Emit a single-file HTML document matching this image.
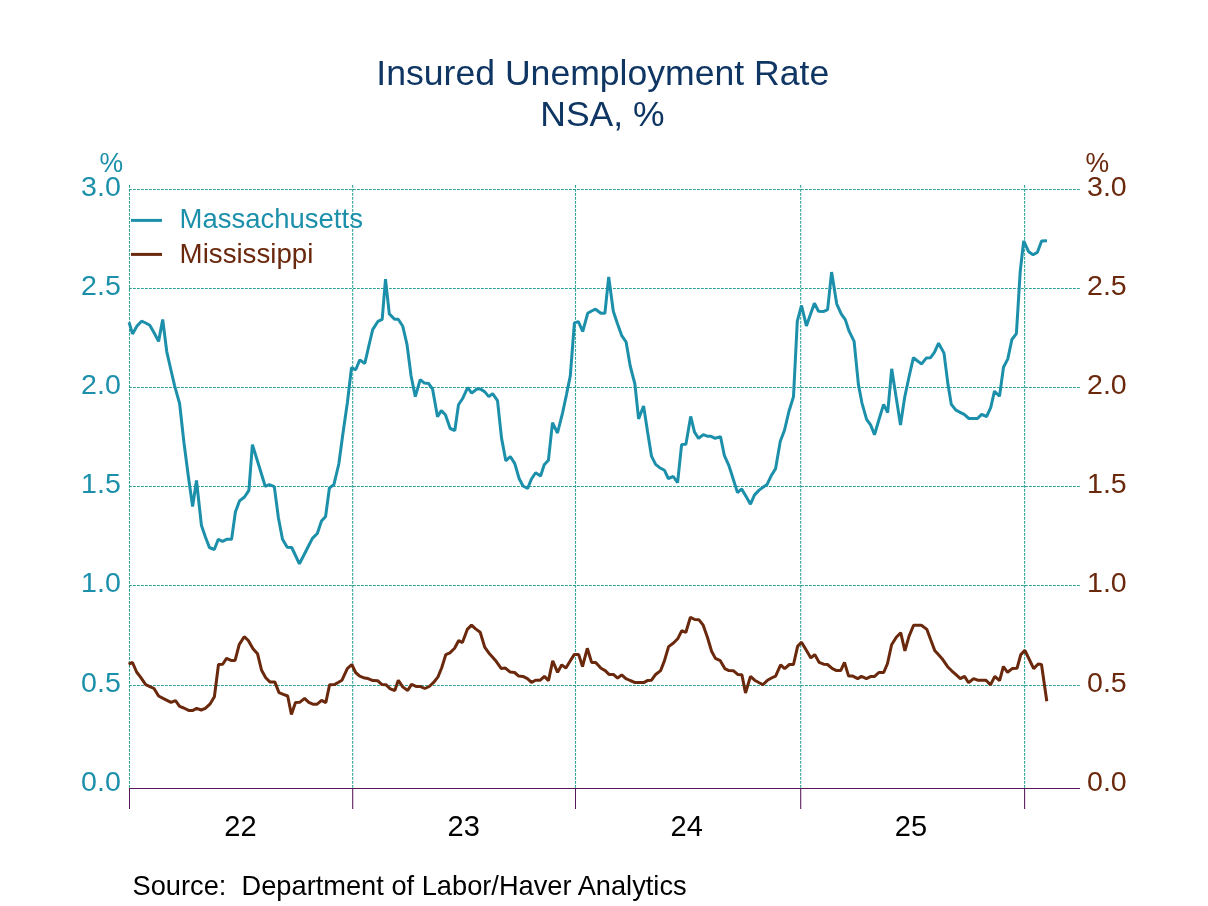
<!DOCTYPE html>
<html lang="en">
<head>
<meta charset="utf-8">
<title>Insured Unemployment Rate</title>
<style>
html,body{margin:0;padding:0;background:#fff;}
body{width:1208px;height:906px;overflow:hidden;}
svg{display:block;}
text{font-family:"Liberation Sans",Arial,Helvetica,sans-serif;}
.t{fill:#0f3563;}
.l{fill:#1c90aa;}
.r{fill:#6a280c;}
.k{fill:#000;}
.g{stroke:#2aa093;stroke-width:1.1;stroke-dasharray:2.8 1.2;fill:none;}
.a{stroke:#561858;stroke-width:1.05;fill:none;}
</style>
</head>
<body>
<svg width="1208" height="906" viewBox="0 0 1208 906">
<rect width="1208" height="906" fill="#ffffff"/>
<text class="t" x="602.8" y="84.7" font-size="35.6" text-anchor="middle">Insured Unemployment Rate</text>
<text class="t" x="602.4" y="126.1" font-size="35.5" text-anchor="middle">NSA, %</text>
<g class="g">
<line x1="129" y1="189.5" x2="1080" y2="189.5"/>
<line x1="129" y1="288.5" x2="1080" y2="288.5"/>
<line x1="129" y1="387.5" x2="1080" y2="387.5"/>
<line x1="129" y1="486.5" x2="1080" y2="486.5"/>
<line x1="129" y1="585.5" x2="1080" y2="585.5"/>
<line x1="129" y1="685.5" x2="1080" y2="685.5"/>
<line x1="129.5" y1="185" x2="129.5" y2="788"/>
<line x1="352.7" y1="185" x2="352.7" y2="788"/>
<line x1="575.5" y1="185" x2="575.5" y2="788"/>
<line x1="800.7" y1="185" x2="800.7" y2="788"/>
<line x1="1024.6" y1="185" x2="1024.6" y2="788"/>
</g>
<g class="a">
<line x1="129" y1="788.5" x2="1080" y2="788.5"/>
<line x1="129.5" y1="788.5" x2="129.5" y2="809"/>
<line x1="352.7" y1="788.5" x2="352.7" y2="809"/>
<line x1="575.5" y1="788.5" x2="575.5" y2="809"/>
<line x1="800.7" y1="788.5" x2="800.7" y2="809"/>
<line x1="1024.6" y1="788.5" x2="1024.6" y2="809"/>
</g>
<text class="l" transform="translate(123.2,172.3) scale(0.95,1)" font-size="28" text-anchor="end">%</text>
<text class="l" transform="translate(120.85,196.2) scale(1.022,1)" font-size="28" text-anchor="end">3.0</text>
<text class="l" transform="translate(120.85,295.2) scale(1.022,1)" font-size="28" text-anchor="end">2.5</text>
<text class="l" transform="translate(120.85,394.2) scale(1.022,1)" font-size="28" text-anchor="end">2.0</text>
<text class="l" transform="translate(120.85,493.2) scale(1.022,1)" font-size="28" text-anchor="end">1.5</text>
<text class="l" transform="translate(120.85,592.2) scale(1.022,1)" font-size="28" text-anchor="end">1.0</text>
<text class="l" transform="translate(120.85,692.2) scale(1.022,1)" font-size="28" text-anchor="end">0.5</text>
<text class="l" transform="translate(120.85,790.8) scale(1.022,1)" font-size="28" text-anchor="end">0.0</text>
<text class="r" transform="translate(1085.5,172.3) scale(0.95,1)" font-size="28">%</text>
<text class="r" transform="translate(1087.0,196.2) scale(1.022,1)" font-size="28">3.0</text>
<text class="r" transform="translate(1087.0,295.2) scale(1.022,1)" font-size="28">2.5</text>
<text class="r" transform="translate(1087.0,394.2) scale(1.022,1)" font-size="28">2.0</text>
<text class="r" transform="translate(1087.0,493.2) scale(1.022,1)" font-size="28">1.5</text>
<text class="r" transform="translate(1087.0,592.2) scale(1.022,1)" font-size="28">1.0</text>
<text class="r" transform="translate(1087.0,692.2) scale(1.022,1)" font-size="28">0.5</text>
<text class="r" transform="translate(1087.0,790.8) scale(1.022,1)" font-size="28">0.0</text>
<line x1="131" y1="220.4" x2="162" y2="220.4" stroke="#1c90aa" stroke-width="3"/>
<line x1="131" y1="254.4" x2="162" y2="254.4" stroke="#6a280c" stroke-width="3"/>
<text class="l" transform="translate(179.6,227.8) scale(0.982,1)" font-size="28">Massachusetts</text>
<text class="r" transform="translate(179.6,262.5) scale(0.989,1)" font-size="28">Mississippi</text>
<polyline fill="none" stroke="#6a280c" stroke-width="3.0" stroke-linejoin="bevel" stroke-linecap="butt" points="128.6,664.2 132.5,662.5 136.6,672.0 140.7,677.4 145.7,684.7 149.9,686.6 154.0,688.5 158.6,696.0 163.1,698.4 167.0,700.3 171.0,702.3 175.5,700.6 179.6,706.4 183.8,708.0 188.7,710.4 192.9,710.4 196.7,708.4 201.2,710.0 205.3,708.4 209.9,704.2 214.4,696.8 218.5,664.5 222.7,664.2 226.5,658.4 231.0,660.4 235.1,660.4 239.2,644.6 244.2,636.7 248.3,640.5 253.0,648.8 257.5,653.7 261.6,670.3 265.7,677.7 269.9,681.9 274.8,681.9 279.0,692.6 283.3,694.3 287.7,696.0 291.4,714.5 295.5,702.6 299.7,702.3 304.6,698.4 308.8,702.3 312.9,704.2 317.1,704.2 321.6,700.4 325.8,702.6 329.6,684.7 334.9,684.4 338.5,682.3 342.0,680.2 347.3,668.6 351.8,664.5 355.6,672.5 359.7,676.1 364.7,678.1 368.0,678.6 372.9,680.6 377.6,680.7 381.7,684.4 385.9,684.7 390.3,688.8 394.8,690.5 398.3,680.2 402.7,686.9 407.7,690.5 411.5,684.4 416.0,686.4 420.1,686.4 424.8,688.5 429.2,686.5 433.4,682.7 438.0,676.9 441.7,667.8 445.8,654.6 449.9,652.9 454.6,648.3 458.7,640.5 462.4,642.6 467.3,629.4 471.5,625.1 475.6,628.9 480.2,632.2 484.7,647.1 488.8,652.9 492.2,656.7 495.5,660.4 501.3,668.6 505.4,668.1 510.2,672.1 514.6,672.5 518.7,676.1 522.9,676.4 527.4,678.6 531.5,682.4 535.6,680.2 540.3,680.2 544.4,676.4 548.5,680.6 552.7,660.9 557.6,672.3 561.8,664.8 565.9,668.1 570.0,661.3 574.2,654.6 578.7,654.6 582.5,666.5 587.3,648.3 591.6,662.4 595.7,662.4 601.0,668.3 605.2,670.6 609.0,674.4 613.4,674.4 617.6,678.2 621.7,674.8 625.9,678.6 630.2,680.5 634.6,682.4 639.3,682.4 644.1,682.4 647.4,680.6 651.5,680.2 655.3,674.8 660.6,670.6 664.4,660.9 668.6,646.6 673.5,643.0 677.7,638.8 681.8,630.6 685.8,632.5 690.4,617.3 694.8,619.5 699.0,619.8 703.2,625.2 707.4,637.2 711.6,651.3 715.4,658.4 720.3,660.7 724.8,668.6 728.9,670.6 733.6,670.8 737.7,674.4 741.9,674.8 745.5,693.0 750.5,676.4 754.6,680.2 758.8,682.5 762.9,684.7 767.5,680.2 771.5,678.0 775.6,676.1 780.6,664.8 784.7,668.6 789.4,664.5 793.5,664.5 797.6,646.3 801.5,642.2 806.2,650.0 810.9,657.9 814.7,654.6 819.2,662.4 823.6,664.2 827.5,664.5 832.4,668.6 836.6,670.6 840.7,670.6 844.5,662.4 848.6,676.1 852.8,676.1 857.7,678.6 861.4,676.4 866.4,678.6 870.5,676.6 874.6,676.4 878.8,672.5 883.7,672.5 887.5,663.5 891.6,644.8 896.3,637.2 900.7,632.7 904.9,650.9 909.0,636.4 913.6,625.3 917.5,625.3 921.4,625.3 926.9,629.4 930.8,640.0 934.7,650.4 938.4,654.6 942.1,658.7 947.6,666.7 951.7,670.8 956.0,674.7 960.3,678.6 964.5,676.4 968.6,682.7 973.6,678.6 977.7,680.2 981.8,680.2 986.0,680.2 990.5,684.9 994.8,676.4 999.6,680.7 1003.4,666.5 1007.5,672.3 1012.2,668.6 1017.0,668.3 1020.8,654.6 1024.9,650.4 1029.3,659.5 1033.7,668.6 1038.1,664.0 1041.5,664.5 1046.8,701.3"/>
<polyline fill="none" stroke="#1c90aa" stroke-width="3.0" stroke-linejoin="bevel" stroke-linecap="butt" points="129.1,322.4 132.5,333.9 137.0,326.0 141.6,321.2 145.7,323.0 149.8,325.2 154.2,333.0 158.6,341.4 162.7,319.5 166.7,351.3 170.7,369.0 174.7,386.1 179.6,403.5 184.0,443.0 188.3,476.0 192.6,506.5 196.5,480.5 201.4,525.2 205.4,537.0 209.4,547.5 214.3,549.5 218.3,539.3 222.6,541.3 226.6,539.3 231.6,539.3 235.4,512.0 239.5,500.9 244.5,497.0 248.9,490.4 252.4,444.6 256.7,458.5 261.0,472.5 265.2,486.3 269.3,484.6 274.3,486.6 278.4,517.7 282.5,539.3 287.2,547.2 291.7,547.5 295.5,555.5 299.4,563.8 303.7,555.5 308.0,547.0 312.4,538.4 317.3,533.5 321.5,521.0 325.6,516.4 329.4,488.0 333.9,484.6 338.8,464.0 343.0,433.0 347.4,402.5 351.5,367.7 355.7,369.8 359.8,359.9 364.8,363.5 368.8,346.0 372.7,329.6 378.0,321.3 382.2,319.3 385.5,279.1 389.3,313.9 394.6,319.3 398.2,319.3 402.8,326.3 407.0,344.5 411.1,376.0 415.3,396.7 420.2,379.6 424.4,383.1 428.5,383.4 432.6,389.2 437.5,416.8 441.3,410.6 445.4,414.8 450.2,428.5 454.8,430.5 458.5,404.8 462.8,398.2 467.7,387.5 471.7,393.2 476.7,389.1 480.5,389.1 484.6,391.6 488.8,396.6 492.6,393.6 497.5,400.7 501.5,437.9 505.8,460.8 510.3,456.5 514.8,463.6 519.1,478.5 523.0,486.0 527.7,488.4 531.3,479.3 535.6,472.7 540.6,476.0 544.2,464.8 548.4,460.3 552.5,422.7 557.5,433.0 562.5,413.1 566.4,395.0 570.3,375.9 574.4,322.9 578.4,321.6 582.7,331.5 587.7,313.3 591.6,311.0 595.5,309.2 600.9,313.3 604.9,313.3 608.7,276.9 613.3,311.3 617.4,323.5 621.6,335.3 626.1,342.0 630.2,366.0 634.9,384.0 638.6,418.9 643.6,406.0 647.6,432.0 651.5,456.2 655.6,464.4 659.7,467.7 664.4,470.2 668.3,478.5 673.3,476.5 677.6,482.6 681.6,444.6 685.9,444.2 690.7,416.4 694.5,432.2 698.6,438.3 703.3,434.6 707.7,436.3 711.1,436.3 715.2,438.3 720.5,436.6 724.3,455.3 728.8,465.3 733.2,479.0 737.5,492.6 741.7,488.9 746.1,496.5 750.5,504.2 754.4,495.1 759.1,490.1 763.0,487.3 767.0,484.6 771.5,475.2 775.6,468.6 780.3,441.3 784.4,430.5 788.9,411.5 793.5,396.6 797.3,321.2 801.5,305.5 806.4,325.9 810.4,314.5 814.4,303.3 818.5,311.3 823.3,311.6 827.6,309.6 831.6,272.1 836.7,303.8 841.2,313.8 845.3,319.6 849.1,331.2 854.1,341.3 858.4,384.4 861.9,402.8 866.6,419.3 870.7,425.1 874.5,434.7 879.0,419.5 883.6,404.4 887.7,412.7 891.7,368.8 896.1,397.0 900.5,425.1 904.6,397.8 909.0,377.0 913.4,357.7 917.5,361.0 921.7,363.9 926.2,358.1 930.6,357.7 934.4,352.3 938.6,343.2 944.0,353.1 948.0,384.6 951.3,404.4 956.0,410.2 960.1,412.3 964.2,414.4 968.9,418.5 973.2,418.5 977.5,418.5 981.6,414.4 986.6,416.5 990.7,407.7 994.5,391.2 999.5,396.2 1003.5,367.2 1007.8,358.9 1011.9,339.5 1016.4,333.6 1020.2,271.6 1023.7,240.9 1028.7,251.8 1033.1,254.8 1037.4,252.3 1041.6,240.9 1047.0,240.7"/>
<text class="k" x="240.5" y="836.3" font-size="29" text-anchor="middle">22</text>
<text class="k" x="463.7" y="836.3" font-size="29" text-anchor="middle">23</text>
<text class="k" x="686.7" y="836.3" font-size="29" text-anchor="middle">24</text>
<text class="k" x="911.0" y="836.3" font-size="29" text-anchor="middle">25</text>
<text class="k" transform="translate(132.5,895.2) scale(0.9663,1)" font-size="28.2" xml:space="preserve">Source:  Department of Labor/Haver Analytics</text>
</svg>
</body>
</html>
